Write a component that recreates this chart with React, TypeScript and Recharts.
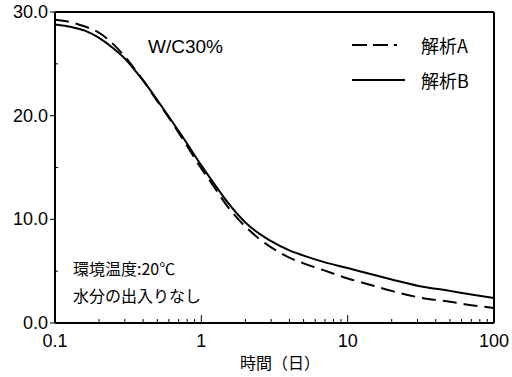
import { LineChart, Line, XAxis, YAxis, ReferenceLine } from 'recharts';

// 時間(日) — log spaced sample points
const days = [0.1, 0.13, 0.16, 0.2, 0.25, 0.3, 0.35, 0.4, 0.5, 0.6, 0.75, 1, 1.2, 1.5, 2, 2.5, 3, 4, 5, 7, 10, 15, 20, 30, 50, 70, 100];
const analysisA = [29.25, 29.0, 28.6, 28.0, 26.9, 25.7, 24.5, 23.4, 21.4, 19.8, 17.7, 14.9, 13.3, 11.3, 9.3, 8.1, 7.3, 6.3, 5.75, 5.05, 4.3, 3.6, 3.1, 2.5, 2.05, 1.72, 1.45];
const analysisB = [28.8, 28.55, 28.2, 27.5, 26.5, 25.5, 24.4, 23.4, 21.5, 19.9, 17.9, 15.2, 13.6, 11.7, 9.7, 8.6, 7.9, 7.0, 6.5, 5.85, 5.3, 4.65, 4.2, 3.6, 3.1, 2.75, 2.4];

const xMajor = [0.1, 1, 10, 100];
const xMinor = [0.2, 0.3, 0.4, 0.5, 0.6, 0.7, 0.8, 0.9, 2, 3, 4, 5, 6, 7, 8, 9, 20, 30, 40, 50, 60, 70, 80, 90];
const yMajor = [0, 10, 20, 30];
const yMinor = [5, 15, 25];

const FONT = '"Liberation Sans", Arial, "Noto Sans CJK JP", sans-serif';
const JP = '"Noto Sans CJK JP", "Liberation Sans", sans-serif';

const chartData = days.map((d, i) => ({ day: d, a: analysisA[i], b: analysisB[i] }));

const XTick = (props: any) => {
  const { x, y, payload } = props;
  const v = payload.value;
  const major = xMajor.includes(v);
  return (
    <g>
      <line x1={x} x2={x} y1={y} y2={y - (major ? 8 : 4)} stroke="#000" strokeWidth={1} />
      {major && (
        <text x={x} y={y + 24} textAnchor="middle" fontSize={18} fontFamily={FONT} fill="#000">
          {String(v)}
        </text>
      )}
    </g>
  );
};

const YTick = (props: any) => {
  const { x, y, payload } = props;
  const v = payload.value;
  const major = yMajor.includes(v);
  return (
    <g>
      {major ? (
        <line x1={x} x2={x - 5} y1={y} y2={y} stroke="#000" strokeWidth={1} />
      ) : (
        <line x1={x} x2={x + 3} y1={y} y2={y} stroke="#000" strokeWidth={1} />
      )}
      {major && (
        <text x={x - 7} y={y + 6} textAnchor="end" fontSize={18} fontFamily={FONT} fill="#000">
          {v.toFixed(1)}
        </text>
      )}
    </g>
  );
};

export default function App() {
  return (
    <div style={{ position: 'absolute', left: 0, top: 0, width: 512, height: 377, background: '#fff' }}>
      <LineChart width={512} height={377} data={chartData} margin={{ top: 12, right: 18, bottom: 0, left: 0 }}>
        <XAxis
          dataKey="day"
          type="number"
          scale="log"
          domain={[0.1, 100]}
          allowDataOverflow
          ticks={[...xMajor, ...xMinor].sort((p, q) => p - q)}
          interval={0}
          tick={<XTick />}
          tickLine={false}
          tickSize={0}
          tickMargin={0}
          axisLine={{ stroke: '#000', strokeWidth: 2 }}
          height={54}
        />
        <YAxis
          type="number"
          domain={[0, 30]}
          ticks={[...yMajor, ...yMinor].sort((p, q) => p - q)}
          interval={0}
          tick={<YTick />}
          tickLine={false}
          tickSize={0}
          tickMargin={0}
          axisLine={{ stroke: '#000', strokeWidth: 2 }}
          width={55}
        />
        <ReferenceLine y={30} stroke="#000" strokeWidth={2} ifOverflow="extendDomain" />
        <ReferenceLine x={100} stroke="#000" strokeWidth={2} ifOverflow="extendDomain" />
        <Line type="monotone" dataKey="a" stroke="#000" strokeWidth={2} strokeDasharray="14 7" dot={false} isAnimationActive={false} />
        <Line type="monotone" dataKey="b" stroke="#000" strokeWidth={2} dot={false} isAnimationActive={false} />
      </LineChart>

      <div style={{ position: 'absolute', left: 148, top: 36, fontSize: 19, fontFamily: FONT, color: '#000' }}>W/C30%</div>

      <svg style={{ position: 'absolute', left: 350, top: 34 }} width={60} height={56}>
        <line x1={2} x2={17} y1={11} y2={11} stroke="#000" strokeWidth={2} />
        <line x1={23} x2={38} y1={11} y2={11} stroke="#000" strokeWidth={2} />
        <line x1={44} x2={47} y1={11} y2={11} stroke="#000" strokeWidth={2} />
        <line x1={2} x2={55} y1={46} y2={46} stroke="#000" strokeWidth={2} />
      </svg>
      <div style={{ position: 'absolute', left: 421, top: 33, fontSize: 18, fontFamily: JP, color: '#000', lineHeight: '24px' }}>解析A</div>
      <div style={{ position: 'absolute', left: 421, top: 68, fontSize: 18, fontFamily: JP, color: '#000', lineHeight: '24px' }}>解析B</div>

      <div style={{ position: 'absolute', left: 73, top: 256, fontSize: 16, fontFamily: JP, color: '#000', lineHeight: '24px' }}>環境温度:20℃</div>
      <div style={{ position: 'absolute', left: 73, top: 283, fontSize: 16, fontFamily: JP, color: '#000', lineHeight: '24px' }}>水分の出入りなし</div>

      <div style={{ position: 'absolute', left: 240, top: 350, fontSize: 16, fontFamily: JP, color: '#000', lineHeight: '24px' }}>時間（日）</div>
    </div>
  );
}
